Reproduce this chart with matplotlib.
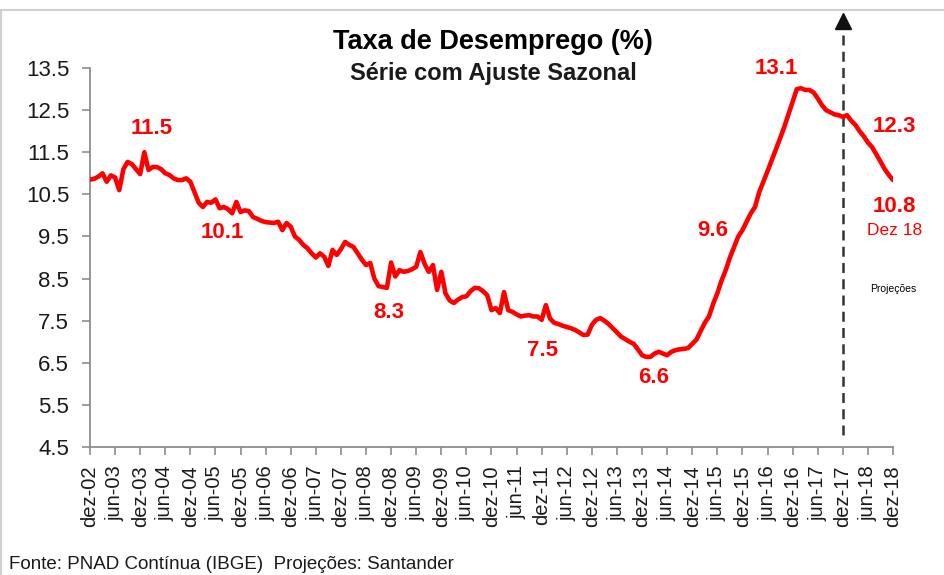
import numpy as np
import matplotlib
matplotlib.use('Agg')
import matplotlib.pyplot as plt
from matplotlib.patches import Rectangle

plt.rcParams['font.family'] = ['Liberation Sans', 'DejaVu Sans']

# taxa de desemprego mensal, dez-02 ... dez-18
taxa = [
    10.85,                                                                    # dez-02
    10.87, 10.92, 11.00, 10.80, 10.95, 10.90, 10.60, 11.10, 11.27, 11.22, 11.10, 10.98,  # 2003
    11.50, 11.08, 11.15, 11.15, 11.10, 11.00, 10.96, 10.88, 10.84, 10.84, 10.88, 10.80,  # 2004
    10.55, 10.30, 10.20, 10.32, 10.30, 10.38, 10.17, 10.20, 10.15, 10.05, 10.32, 10.08,  # 2005
    10.12, 10.10, 9.96, 9.92, 9.87, 9.84, 9.83, 9.82, 9.85, 9.65, 9.82, 9.73,            # 2006
    9.50, 9.42, 9.30, 9.22, 9.10, 9.00, 9.10, 9.02, 8.80, 9.18, 9.06, 9.20,              # 2007
    9.37, 9.30, 9.25, 9.10, 8.95, 8.82, 8.87, 8.50, 8.32, 8.30, 8.28, 8.88,              # 2008
    8.55, 8.70, 8.66, 8.68, 8.72, 8.78, 9.13, 8.85, 8.66, 8.82, 8.23, 8.66,              # 2009
    8.15, 7.98, 7.92, 8.00, 8.06, 8.08, 8.20, 8.28, 8.27, 8.20, 8.10, 7.75,              # 2010
    7.80, 7.68, 8.18, 7.75, 7.71, 7.65, 7.60, 7.62, 7.63, 7.60, 7.60, 7.52,              # 2011
    7.87, 7.55, 7.45, 7.42, 7.38, 7.35, 7.32, 7.28, 7.22, 7.16, 7.17, 7.40,              # 2012
    7.52, 7.56, 7.50, 7.42, 7.32, 7.22, 7.12, 7.06, 7.00, 6.95, 6.82, 6.68,              # 2013
    6.64, 6.64, 6.72, 6.76, 6.72, 6.68, 6.76, 6.80, 6.82, 6.83, 6.85, 6.95,              # 2014
    7.05, 7.25, 7.45, 7.60, 7.90, 8.15, 8.45, 8.70, 9.00, 9.25, 9.50, 9.65,              # 2015
    9.85, 10.05, 10.20, 10.55, 10.80, 11.05, 11.31, 11.57, 11.83, 12.10, 12.40, 12.70,   # 2016
    13.00, 13.02, 12.98, 12.98, 12.92, 12.78, 12.62, 12.50, 12.45, 12.40, 12.38, 12.34,  # 2017
    12.38, 12.25, 12.15, 12.00, 11.88, 11.73, 11.62, 11.45, 11.28, 11.10, 10.96, 10.84,  # 2018
]

tick_labels = []
for ano in range(2, 19):
    tick_labels.append('dez-%02d' % ano)
    if ano < 18:
        tick_labels.append('jun-%02d' % (ano + 1))

destaques = ['11.5', '10.1', '8.3', '7.5', '6.6', '9.6', '13.1', '12.3', '10.8']
mes_projecao = 180  # dez-17

meses = np.arange(len(taxa))

fig = plt.figure(figsize=(9.45, 5.75), dpi=100)
ax = fig.add_axes([0.0952, 0.2226, 0.8498, 0.6591])

ax.plot(meses, taxa, color='#ff0000', lw=3.3, solid_capstyle='round', zorder=3)

ax.set_xlim(0, len(taxa) - 1)
ax.set_ylim(4.5, 13.5)
ax.set_yticks(np.arange(4.5, 13.6, 1.0))
ax.set_yticklabels(['%.1f' % v for v in np.arange(4.5, 13.6, 1.0)])
ax.set_xticks(np.arange(0, len(taxa), 6))
ax.set_xticklabels(tick_labels, rotation=90)

for s in ['top', 'right']:
    ax.spines[s].set_visible(False)
for s in ['left', 'bottom']:
    ax.spines[s].set_color('#8c8c8c')
    ax.spines[s].set_linewidth(1.3)
ax.tick_params(axis='y', direction='out', length=6, width=1.2, color='#8c8c8c',
               labelsize=16, pad=9, labelcolor='#1a1a1a')
ax.tick_params(axis='x', direction='out', length=6, width=1.2, color='#8c8c8c',
               labelsize=14.5, pad=7, labelcolor='#1a1a1a')

# linha de projecao (tracejada com seta no topo)
ax.plot([mes_projecao, mes_projecao], [4.78, 14.6], color='#333333', lw=1.8,
        linestyle=(0, (4, 2.5)), clip_on=False, zorder=2)
ax.plot([mes_projecao], [14.62], marker='^', markersize=11, color='#111111',
        clip_on=False, zorder=2)

# rotulos
pos = [(14.8, 12.07), (31.6, 9.6), (71.5, 7.7), (108.1, 6.8), (134.7, 6.16),
       (148.8, 9.65), (164.1, 13.5), (192.3, 12.1), (192.3, 10.22)]
for txt, (x, y) in zip(destaques, pos):
    ax.text(x, y, txt, color='#ff0000', fontsize=16, fontweight='bold',
            ha='center', va='center', clip_on=False)
ax.text(192.3, 9.63, 'Dez 18', color='#ff0000', fontsize=12.5,
        ha='center', va='center', clip_on=False)
ax.text(192.1, 8.25, 'Projeções', color='black', fontsize=7.5,
        ha='center', va='center', clip_on=False)

fig.text(0.522, 0.927, 'Taxa de Desemprego (%)', fontsize=19.5, fontweight='bold',
         ha='center', va='center')
fig.text(0.522, 0.873, 'Série com Ajuste Sazonal', fontsize=17, fontweight='bold',
         ha='center', va='center', color='#1a1a1a')
fig.text(0.009, 0.018, 'Fonte: PNAD Contínua (IBGE)  Projeções: Santander',
         fontsize=13.5, ha='left', va='center', color='#1a1a1a')

fig.patches.append(Rectangle((0.001, -0.05), 1.2, 0.05 + 0.983, transform=fig.transFigure,
                             fill=False, edgecolor='#d0d0d0', lw=1.5))

fig.savefig('out.png', dpi=100)
